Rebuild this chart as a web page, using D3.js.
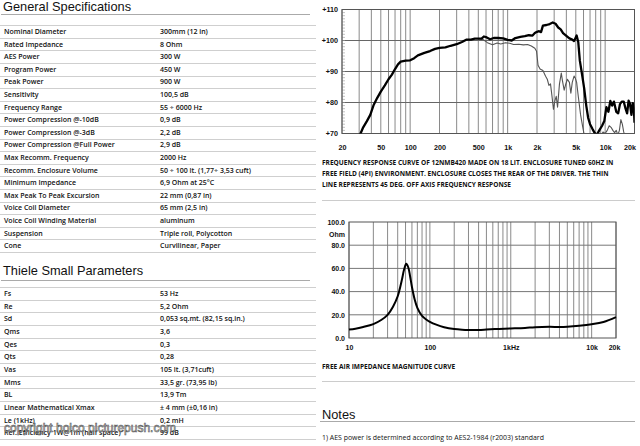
<!DOCTYPE html>
<html><head><meta charset="utf-8">
<script src="https://cdn.jsdelivr.net/npm/d3@7"></script>
<style>body{margin:0;background:#fff}svg{display:block}</style>
</head><body><svg id="c" width="640" height="446"></svg>
<script>
// ---------- DATA ----------
const specLabels = ["Nominal Diameter","Rated Impedance","AES Power","Program Power","Peak Power","Sensitivity","Frequency Range","Power Compression @-10dB","Power Compression @-3dB","Power Compression @Full Power","Max Recomm. Frequency","Recomm. Enclosure Volume","Minimum Impedance","Max Peak To Peak Excursion","Voice Coil Diameter","Voice Coil Winding Material","Suspension","Cone"];
const specValues = ["300mm (12 in)","8 Ohm","300 W","450 W","900 W","100,5 dB","55 ÷ 6000 Hz","0,9 dB","2,2 dB","2,9 dB","2000 Hz","50 ÷ 100 lt. (1,77÷ 3,53 cuft)","6,9 Ohm at 25°C","22 mm (0,87 in)","65 mm (2,5 in)","aluminum","Triple roll, Polycotton","Curvilinear, Paper"];
const tsLabels = ["Fs","Re","Sd","Qms","Qes","Qts","Vas","Mms","BL","Linear Mathematical Xmax","Le (1kHz)","Ref. Efficiency 1W@1m (half space)"];
const tsValues = ["53 Hz","5,2 Ohm","0,053 sq.mt. (82,15 sq.in.)","3,6","0,3","0,28","105 lt. (3,71cuft)","33,5 gr. (73,95 lb)","13,9 Tm","± 4 mm (±0,16 in)","0,2 mH","99 dB"];

const frFreq = [30,31,33,36,39,42,46,50,55,60,65,70,75,80,90,100,110,120,140,160,180,200,230,260,300,340,380,420,460,500,540,570,610,660,720,800,900,1000,1100,1200,1350,1500,1650,1800,1900,2000,2100,2200,2300,2500,2700,2900,3100,3300,3500,3700,4000,4300,4600,4800,5100,5300,5500,5800,6100,6400,6700,7000,7400,7800,8200,8700,9300,9800,10300,10800,11300,11800,12300,13000,13600,14200,14800,15500,16200,16800,17400,18000,18600,19200,19700,20000];
const frOnAxis = [69.5,70,72,74,76,79,81.5,83.5,85.5,87.5,89,90.8,92.3,93.2,93.5,93.6,94.3,95.2,96,96.6,97.3,97.6,97.8,98.3,98.8,99.5,100.3,100.3,100.6,100.6,100.6,101.3,101,100.4,100.8,100.8,100.7,100.2,100,100.8,101.2,101.4,101.7,101.6,102.4,102.8,103,102.7,104.8,105,105.3,105.8,105.4,104.2,103.6,102.4,101.5,100.7,100.3,99.8,101.6,99.5,93.5,89,84.5,79,75,73,71.5,70.2,69.5,71,72.5,74,78.5,77,80.5,79,80.3,77,76.5,79.5,80.3,80.3,78,76.5,80.6,79.5,76,79.8,78,73.5];
const frOffFreq = [500,560,620,700,780,850,950,1050,1150,1300,1450,1600,1750,1900,1980,2050,2150,2300,2450,2550,2650,2750,2850,2950,3050,3150,3250,3400,3550,3650,3800,3950,4100,4300,4450,4600,4800,4950,5100,5300,5600,5900,6100,6500,7000,8000,9000,9500,10000,10500,11000,11500,12000,12500,13000,13500,14000,14500,15000,15500,16000,17000,18000,19000,20000];
const frOffAxis = [100.6,100.3,99.3,98.6,99.2,98.9,99.3,99.1,98.7,98.8,98.6,98.7,98.2,97.5,96.5,92,90.8,90.3,88.5,87.5,85.5,86,82,77.8,80.5,82,78.5,86,89.5,87,84,86,87.5,86.5,83,86.5,88.5,87.8,86.5,82,76,72,69.5,68,67,68,69,70.5,70,71,72.5,72,71,70.3,71,69.5,71,74.5,73,70.5,69,68,67,68,67];
const frXTicks = [20,50,100,200,500,1000,2000,5000,10000,20000];
const frXLabels = ["20","50","100","200","500","1k","2k","5k","10k","20k"];
const frYTicks = [70,80,90,100,110];
const frYLabels = ["+70","+80","+90","+100","+110"];

const impFreq = [10,12,15,20,25,30,35,40,45,48,51,54,57,60,65,70,80,90,100,120,150,200,250,300,400,500,700,1000,1500,2000,3000,4000,5000,7000,10000,14000,20000];
const impOhm = [7.3,8,9.5,12,15.5,20,27,36,50,59,64,61,53,44,33,26,19,16,14,11.5,9.3,7.7,7.1,6.9,7.0,7.3,7.8,8.2,8.7,9.3,9.6,9.5,9.7,10.5,11.8,13.8,18];
const impXTicks = [10,100,1000,10000,20000];
const impXLabels = ["10","100","1kHz","10k","20k"];
const impYTicks = [0,20,40,60,80,100];
const impYLabels = ["0.0","20.0","40.0","60.0","80.0","100.0"];

const captionFR = ["FREQUENCY RESPONSE CURVE OF 12NMB420 MADE ON 18 LIT. ENCLOSURE TUNED 60HZ IN","FREE FIELD (4PI) ENVIRONMENT. ENCLOSURE CLOSES THE REAR OF THE DRIVER. THE THIN","LINE REPRESENTS 45 DEG. OFF AXIS FREQUENCY RESPONSE"];
const captionImp = "FREE AIR IMPEDANCE MAGNITUDE CURVE";
const notes = ["1) AES power is determined according to AES2-1984 (r2003) standard"];

// ---------- DRAW ----------
const svg = d3.select("#c");
const HEAD = "'Liberation Sans', Arial, sans-serif";
const BODY = "'Open Sans', sans-serif";

function heading(x, y, txt, x2, ly){
  svg.append("text").attr("x",x).attr("y",y).attr("font-family",HEAD).attr("font-size",12.8)
    .attr("fill","#111").text(txt);
  svg.append("line").attr("x1",x-2).attr("x2",x2).attr("y1",ly).attr("y2",ly)
    .attr("stroke","#aaa").attr("stroke-width",1);
}
function table(labels, values, y0, step){
  const g = svg.append("g");
  const lines = d3.range(labels.length+1).map(i => y0 - step/2 + i*step);
  g.selectAll("line").data(lines).join("line")
    .attr("x1",0).attr("x2",316).attr("y1",d=>Math.round(d)+0.5).attr("y2",d=>Math.round(d)+0.5)
    .attr("stroke","#cfcfcf").attr("stroke-width",1);
  g.selectAll("text.l").data(labels).join("text").attr("class","l")
    .attr("x",4).attr("y",(d,i)=>y0+i*step+2.5)
    .attr("font-family",BODY).attr("font-weight",600).attr("font-size",7).attr("fill","#111").text(d=>d);
  g.selectAll("text.v").data(values).join("text").attr("class","v")
    .attr("x",160).attr("y",(d,i)=>y0+i*step+2.5)
    .attr("font-family",BODY).attr("font-weight",600).attr("font-size",7).attr("fill","#111").text(d=>d);
}
heading(3, 10.5, "General Specifications", 310, 14.5);
table(specLabels, specValues, 31.5, 12.6);
heading(3, 275, "Thiele Small Parameters", 310, 280.5);
table(tsLabels, tsValues, 293.5, 12.65);

// watermark
svg.append("text").attr("x",4).attr("y",432).attr("font-family",HEAD).attr("font-size",12)
  .attr("fill","#f6f6f6").attr("stroke","#444").attr("stroke-width",0.6).attr("opacity",0.9)
  .text("copyright holco picturepush.com");

// log grid values helper
function logGrid(lo, hi){
  const out=[];
  for(let p=Math.floor(Math.log10(lo)); p<=Math.ceil(Math.log10(hi)); p++)
    for(let k=1;k<10;k++){ const v=k*Math.pow(10,p); if(v>=lo-1e-9 && v<=hi+1e-9) out.push(v); }
  return out;
}

// ---------- Frequency response ----------
const fx = d3.scaleLog().domain([20,20000]).range([342,634.5]);
const fy = d3.scaleLinear().domain([70,110]).range([133.5,9.5]);
const fg = svg.append("g");
fg.append("defs").append("clipPath").attr("id","fclip").append("rect")
  .attr("x",342).attr("y",9.5).attr("width",292.5).attr("height",124);
fg.selectAll("line.vg").data(logGrid(20,20000)).join("line").attr("class","vg")
  .attr("x1",d=>fx(d)).attr("x2",d=>fx(d)).attr("y1",fy(110)).attr("y2",fy(70))
  .attr("stroke","#8a8a8a").attr("stroke-width",1);
fg.selectAll("line.hg").data([80,90,100]).join("line").attr("class","hg")
  .attr("x1",342).attr("x2",634.5).attr("y1",d=>fy(d)).attr("y2",d=>fy(d))
  .attr("stroke","#666").attr("stroke-width",1);
fg.selectAll("line.mt").data(d3.range(70,111,1)).join("line").attr("class","mt")
  .attr("x1",342).attr("x2",345).attr("y1",d=>fy(d)).attr("y2",d=>fy(d))
  .attr("stroke","#999").attr("stroke-width",0.6);
fg.append("rect").attr("x",342).attr("y",9.5).attr("width",292.5).attr("height",124)
  .attr("fill","none").attr("stroke","#555").attr("stroke-width",1);
const frLine = d3.line().x(d=>fx(d[0])).y(d=>fy(d[1]));
fg.append("path").datum(d3.zip(frOffFreq, frOffAxis)).attr("d",frLine).attr("clip-path","url(#fclip)")
  .attr("fill","none").attr("stroke","#555").attr("stroke-width",1.1).attr("stroke-linejoin","round");
fg.append("path").datum(d3.zip(frFreq, frOnAxis)).attr("d",frLine).attr("clip-path","url(#fclip)")
  .attr("fill","none").attr("stroke","#000").attr("stroke-width",2.3).attr("stroke-linejoin","round");
const fxAxis = d3.axisBottom(fx).tickValues(frXTicks).tickFormat((d,i)=>frXLabels[i]).tickSize(0).tickPadding(0);
const fxa = svg.append("g").attr("transform","translate(0,146)").call(fxAxis);
fxa.select(".domain").remove();
fxa.selectAll("text").attr("font-family",HEAD).attr("font-weight","bold").attr("font-size",7.2).attr("fill","#111")
  .attr("dy","0.6em");
fxa.selectAll(".tick").filter(d=>d===20000).select("text").attr("text-anchor","end").attr("dx",1);
const fyAxis = d3.axisLeft(fy).tickValues(frYTicks).tickFormat((d,i)=>frYLabels[i]).tickSize(0).tickPadding(4);
const fya = svg.append("g").attr("transform","translate(342,0)").call(fyAxis);
fya.select(".domain").remove();
fya.selectAll("text").attr("font-family",HEAD).attr("font-weight","bold").attr("font-size",7.2).attr("fill","#111");

svg.selectAll("text.capfr").data(captionFR).join("text").attr("class","capfr")
  .attr("x",322).attr("y",(d,i)=>164.5+i*11.3)
  .attr("font-family",BODY).attr("font-weight",700).attr("font-size",6.55).attr("fill","#111").text(d=>d);
svg.append("line").attr("x1",322).attr("x2",635).attr("y1",200.5).attr("y2",200.5).attr("stroke","#ccc");

// ---------- Impedance ----------
const ix = d3.scaleLog().domain([10,20000]).range([349,616]);
const iy = d3.scaleLinear().domain([0,100]).range([338,222]);
const ig = svg.append("g");
ig.selectAll("line.vg").data(logGrid(10,20000)).join("line").attr("class","vg")
  .attr("x1",d=>ix(d)).attr("x2",d=>ix(d)).attr("y1",iy(100)).attr("y2",iy(0))
  .attr("stroke","#8a8a8a").attr("stroke-width",1);
ig.selectAll("line.hg").data([20,40,60,80]).join("line").attr("class","hg")
  .attr("x1",349).attr("x2",616).attr("y1",d=>iy(d)).attr("y2",d=>iy(d))
  .attr("stroke","#777").attr("stroke-width",1);
ig.append("rect").attr("x",349).attr("y",222).attr("width",267).attr("height",116)
  .attr("fill","none").attr("stroke","#555").attr("stroke-width",1);
const impLine = d3.line().x(d=>ix(d[0])).y(d=>iy(d[1])).curve(d3.curveCatmullRom);
ig.append("path").datum(d3.zip(impFreq, impOhm)).attr("d",impLine)
  .attr("fill","none").attr("stroke","#000").attr("stroke-width",2);
const ixAxis = d3.axisBottom(ix).tickValues(impXTicks).tickFormat((d,i)=>impXLabels[i]).tickSize(0).tickPadding(0);
const ixa = svg.append("g").attr("transform","translate(0,346)").call(ixAxis);
ixa.select(".domain").remove();
ixa.selectAll("text").attr("font-family",HEAD).attr("font-weight","bold").attr("font-size",7).attr("fill","#111").attr("dy","0.6em");
ixa.selectAll(".tick").filter(d=>d===20000).select("text").attr("dx",-2);
const iyAxis = d3.axisLeft(iy).tickValues(impYTicks).tickFormat((d,i)=>impYLabels[i]).tickSize(0).tickPadding(4);
const iya = svg.append("g").attr("transform","translate(349,0)").call(iyAxis);
iya.select(".domain").remove();
iya.selectAll("text").attr("font-family",HEAD).attr("font-weight","bold").attr("font-size",7).attr("fill","#111");
svg.append("text").attr("x",345).attr("y",236.5).attr("text-anchor","end").attr("font-family",HEAD)
  .attr("font-weight","bold").attr("font-size",7).attr("fill","#111").text("Ohm");

svg.append("text").attr("x",322).attr("y",368.5).attr("font-family",BODY).attr("font-weight",700)
  .attr("font-size",6.55).attr("fill","#111").text(captionImp);
svg.append("line").attr("x1",322).attr("x2",635).attr("y1",381.5).attr("y2",381.5).attr("stroke","#ccc");

// ---------- Notes ----------
heading(322, 419, "Notes", 635, 421.5);
svg.selectAll("text.note").data(notes).join("text").attr("class","note")
  .attr("x",322).attr("y",440).attr("font-family",BODY).attr("font-size",6.95).attr("fill","#111").text(d=>d);
</script></body></html>
